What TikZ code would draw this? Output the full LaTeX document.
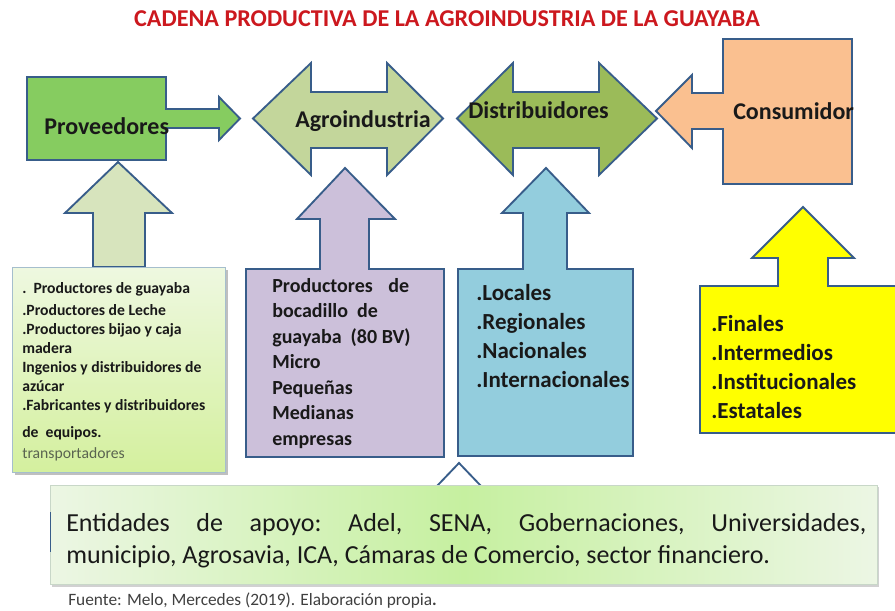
\documentclass[tikz,border=0pt]{standalone}
\usepackage{fontspec}
\setmainfont{Carlito}
\definecolor{bordc}{RGB}{56,93,138}
\definecolor{provfill}{RGB}{134,204,96}
\definecolor{agrofill}{RGB}{195,214,155}
\definecolor{distfill}{RGB}{155,187,89}
\definecolor{consfill}{RGB}{250,192,144}
\definecolor{purpfill}{RGB}{204,192,218}
\definecolor{bluefill}{RGB}{147,205,221}
\definecolor{yellfill}{RGB}{255,255,0}
\definecolor{garrow}{RGB}{215,228,189}
\definecolor{titlered}{RGB}{204,24,30}
\definecolor{txt}{RGB}{25,25,25}
\definecolor{transp}{RGB}{90,100,80}
\definecolor{gtop}{RGB}{238,248,224}
\definecolor{gbot}{RGB}{212,240,158}
\definecolor{bedge}{RGB}{236,246,228}
\definecolor{bmid}{RGB}{198,240,160}
\definecolor{footc}{RGB}{64,64,64}
\newcommand\linestack[2]{\vtop{\baselineskip=#1\lineskip=0pt\lineskiplimit=-100pt #2}}
\begin{document}
\begin{tikzpicture}[x=0.75pt,y=-0.75pt,
  shp/.style={draw=bordc, line width=1.4pt, line join=miter},
  lbl/.style={anchor=base west, inner sep=0, text=txt, font=\bfseries\fontsize{18}{22}\selectfont},
  listtxt/.style={anchor=base west, inner sep=0, text=txt}]
\useasboundingbox (0,0) rectangle (895,610);
\fill[white] (0,0) rectangle (895,610);

% top row shapes
\path[shp, fill=provfill] (27,77) -- (166,77) -- (166,109) -- (219,109) -- (219,97) -- (240,118.5) -- (219,140) -- (219,128) -- (166,128) -- (166,160) -- (27,160) -- cycle;
\path[shp, fill=agrofill] (253,118.5) -- (311,63) -- (311,92) -- (387,92) -- (387,63) -- (443,118.5) -- (387,175) -- (387,148) -- (311,148) -- (311,175) -- cycle;
\path[shp, fill=distfill] (457,118.5) -- (513,63) -- (513,92) -- (599,92) -- (599,63) -- (657,118.5) -- (599,175) -- (599,148) -- (513,148) -- (513,175) -- cycle;
\path[shp, fill=consfill] (723,39) -- (852,39) -- (852,184) -- (723,184) -- (723,129) -- (692,129) -- (692,148) -- (656,111) -- (692,75) -- (692,93) -- (723,93) -- cycle;

% suppliers callout
\path[shp, fill=garrow] (118,162) -- (172,213) -- (145,213) -- (145,267) -- (93,267) -- (93,213) -- (65,213) -- cycle;
\fill[black!25] (15,270) rectangle (228,475);
\path[top color=gtop, bottom color=gbot, draw={rgb,255:red,165;green,190;blue,205}, line width=0.6pt] (12,267) rectangle (225,472);

% purple callout
\path[shp, fill=purpfill] (246,269) -- (320,269) -- (320,219) -- (297,219) -- (345,168) -- (395,219) -- (369,219) -- (369,269) -- (444,269) -- (444,457) -- (246,457) -- cycle;
% blue callout
\path[shp, fill=bluefill] (458,269) -- (523,269) -- (523,213) -- (502,213) -- (546,168) -- (589,213) -- (567,213) -- (567,269) -- (633,269) -- (633,456) -- (458,456) -- cycle;
% yellow callout
\path[shp, fill=yellfill] (700,286) -- (778,286) -- (778,258) -- (752,258) -- (803,207) -- (854,258) -- (828,258) -- (828,286) -- (905,286) -- (905,433) -- (700,433) -- cycle;

% bottom support box
\path[shp, fill=white] (437,486) -- (459,463) -- (481,486);
\fill[black!18] (52,487) rectangle (879,587);
\path[left color=bedge, right color=bedge, middle color=bmid, draw={rgb,255:red,200;green,215;blue,200}, line width=0.6pt] (50,485) rectangle (877,584);
\draw[bordc, line width=0.6pt] (50.3,512) -- (50.3,552);

% title
\node[anchor=base, inner sep=0, text=titlered, font=\bfseries\fontsize{18.1}{21}\selectfont] (title) at (447,27) {CADENA PRODUCTIVA DE LA AGROINDUSTRIA DE LA GUAYABA};

% top labels
\node[lbl] (prov) at (44,134) {Proveedores};
\node[lbl] (agro) at (295,127) {Agroindustria};
\node[lbl] (dist) at (468,118) {Distribuidores};
\node[lbl] (cons) at (733,119) {Consumidor};

% lists
\node[listtxt, font=\bfseries\fontsize{11.75}{14}\selectfont] (suppl) at (22,293.3) {\linestack{14.25pt}{%
  \hbox{.\ \ Productores de guayaba}\vskip2.5pt
  \hbox{.Productores de Leche}
  \hbox{.Productores bijao y caja}
  \hbox{madera}
  \hbox{Ingenios y distribuidores de}
  \hbox{azúcar}
  \hbox{.Fabricantes y distribuidores}\vskip5.8pt
  \hbox{de\ \ equipos.}\vskip1.7pt
  \hbox{\mdseries\color{transp}transportadores}}};

\node[listtxt, font=\bfseries\fontsize{15}{19}\selectfont] (agrol) at (272,292.3) {\linestack{19.1pt}{%
  \hbox to 102.75pt{Productores\hfil de}
  \hbox{bocadillo\ \ de}
  \hbox{guayaba\ \ (80 BV)}
  \hbox{Micro}
  \hbox{Pequeñas}
  \hbox{Medianas}
  \hbox{empresas}}};

\node[listtxt, font=\bfseries\fontsize{17.25}{21}\selectfont] (distl) at (476,300.7) {\linestack{21.75pt}{%
  \hbox{.Locales}
  \hbox{.Regionales}
  \hbox{.Nacionales}
  \hbox{.Internacionales}}};

\node[listtxt, font=\bfseries\fontsize{17.25}{21}\selectfont] (consl) at (711,331.7) {\linestack{21.75pt}{%
  \hbox{.Finales}
  \hbox{.Intermedios}
  \hbox{.Institucionales}
  \hbox{.Estatales}}};

\node[listtxt, font=\fontsize{19.5}{23.5}\selectfont] (support) at (66,531.7) {\linestack{23.5pt}{%
  \hbox to 600pt{Entidades\hfill de\hfill apoyo:\hfill Adel,\hfill SENA,\hfill Gobernaciones,\hfill Universidades,}
  \hbox{municipio, Agrosavia, ICA, Cámaras de Comercio, sector financiero.}}};

\node[anchor=base west, inner sep=0, text=footc, font=\fontsize{13}{15}\selectfont] (source) at (68,605) {Fuente: Melo, Mercedes (2019). Elaboración propia\textbf{.}};
\end{tikzpicture}
\end{document}
